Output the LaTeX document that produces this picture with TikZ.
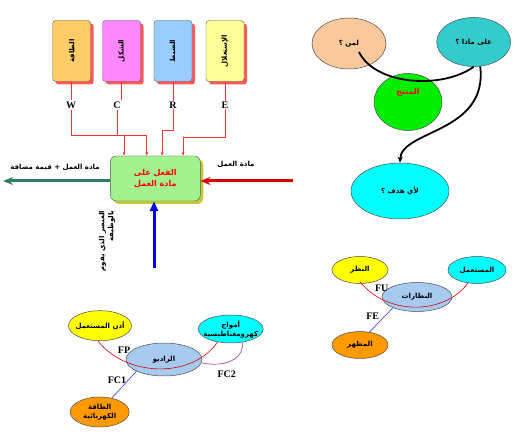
\documentclass[tikz,border=0pt]{standalone}
\usepackage{fontspec}
\setmainfont{Liberation Serif}
\newfontfamily\ar[Script=Arabic]{DejaVu Sans}
\TeXXeTstate=1
\usetikzlibrary{shapes.geometric,shadows,arrows.meta,calc}
\newcommand{\AR}[1]{{\ar\beginR #1\endR}}
\definecolor{cW}{HTML}{FFCC66}
\definecolor{cC}{HTML}{FF88FF}
\definecolor{cR}{HTML}{99CCFF}
\definecolor{cE}{HTML}{FFFF99}
\definecolor{cAct}{HTML}{A2F28E}
\definecolor{cActSh}{HTML}{C8C83C}
\definecolor{cPeach}{HTML}{F9C89B}
\definecolor{cTeal}{HTML}{33CCCC}
\definecolor{cGreen}{HTML}{00EE00}
\definecolor{cCyan}{HTML}{00FFFF}
\definecolor{cYel}{HTML}{FFFF00}
\definecolor{cLB}{HTML}{A6CAF0}
\definecolor{cOr}{HTML}{FF9900}
\definecolor{cLine}{HTML}{FF3333}
\definecolor{cOut}{HTML}{2E7D5E}
\tikzset{
  topbox/.style={draw=gray!70!black, rounded corners=3pt, minimum width=38pt, minimum height=61pt,
    drop shadow={shadow xshift=3pt,shadow yshift=-3pt,fill=red!65,opacity=1}},
  actbox/.style={draw=gray!70!black, fill=cAct, rounded corners=6pt, minimum width=90pt, minimum height=45pt,
    drop shadow={shadow xshift=3pt,shadow yshift=-3pt,fill=cActSh,opacity=1}},
  ell/.style={draw=black!70, ellipse, inner sep=0pt, line width=0.5pt},
  lat/.style={font=\bfseries\fontsize{10}{10}\selectfont, inner sep=1pt},
  atxt/.style={font=\bfseries\fontsize{7}{9}\selectfont, inner sep=1pt, align=center},
  rl/.style={draw=cLine, line width=0.7pt},
  rla/.style={rl, -{Stealth[length=4pt,width=3pt]}},
  heavy/.style={line width=3pt},
}
\begin{document}
\begin{tikzpicture}[x=1pt,y=-1pt]
\useasboundingbox (0,0) rectangle (515,446);
% top boxes
\node[topbox, fill=cW] (bW) at (71.7,51) {};
\node[topbox, fill=cC] (bC) at (121.7,51) {};
\node[topbox, fill=cR] (bR) at (173,51) {};
\node[topbox, fill=cE] (bE) at (225,51) {};
\node[atxt, rotate=90] (tW) at (bW.center) {\AR{الطاقة}};
\node[atxt, rotate=90] (tC) at (bC.center) {\AR{الشكل}};
\node[atxt, rotate=90] (tR) at (bR.center) {\AR{الضبط}};
\node[atxt, rotate=90] (tE) at (bE.center) {\AR{الإستغلال}};
\node[lat] (lW) at (71,105) {W};
\node[lat] (lC) at (117,105) {C};
\node[lat] (lR) at (173,105) {R};
\node[lat] (lE) at (225,105) {E};
\draw[rl] (bW.south) -- (bW.south |- lW.north);
\draw[rl] (bC.south) -- (bC.south |- lC.north);
\draw[rl] (bR.south) -- (bR.south |- lR.north);
\draw[rl] (bE.south) -- (bE.south |- lE.north);
% central box
\node[actbox] (act) at (155.3,178.5) {};
\node[font=\bfseries\fontsize{8}{11}\selectfont, text=red, align=center] (tact) at (act.center) {\AR{الفعل على}\\\AR{مادة العمل}};
\draw[rla] (lW.south) |- ([xshift=14pt,yshift=20pt]act.north west) -- ([xshift=14pt]act.north west);
\draw[rla] (lC.south) |- ([xshift=36.7pt,yshift=20pt]act.north west) -- ([xshift=36.7pt]act.north west);
\draw[rla] (lR.south) |- ([xshift=52pt,yshift=25pt]act.north west) -- ([xshift=52pt]act.north west);
\draw[rla] (lE.south) |- ([xshift=73pt,yshift=18pt]act.north west) -- ([xshift=73pt]act.north west);
% heavy arrows
\coordinate (outL) at (3,181);
\coordinate (inR) at (293,181);
\coordinate (inB) at (154,268);
\draw[heavy, draw=cOut, -{Stealth[length=10pt,width=8pt]}] ([yshift=-2.5pt]act.west) -- (outL);
\draw[heavy, draw=red!85!black, -{Stealth[length=10pt,width=8pt]}] (inR) -- ([yshift=-2.5pt]act.east);
\draw[heavy, draw=blue!90!black, -{Triangle[length=10pt,width=8pt]}] (inB) -- (act.south -| inB);
\node[atxt] (lOut) at (55,167) {\AR{مادة العمل + قيمة مضافة}};
\node[atxt] (lIn) at (236,164) {\AR{مادة العمل}};
\node[atxt, rotate=90, align=right] (lB) at (107,241) {\AR{العنصر الذي يقوم}\\\AR{بالوظيفة}};
% top right
\node[ell, fill=cPeach, minimum width=74pt, minimum height=51pt] (liman) at (349,43.5) {};
\node[atxt] (tliman) at (liman.center) {\AR{لمن ؟}};
\node[ell, fill=cTeal, minimum width=74pt, minimum height=49pt] (ala) at (473.7,42) {};
\node[atxt] (tala) at (ala.center) {\AR{على ماذا ؟}};
\node[ell, fill=cGreen, minimum width=68pt, minimum height=57pt] (mun) at (408,102) {};
\node[atxt, text=red, font=\bfseries\fontsize{8}{9}\selectfont] (tmun) at (408,92) {\AR{المنتج}};
\node[ell, fill=cCyan, minimum width=98pt, minimum height=56pt] (had) at (400,191) {};
\node[atxt] (thad) at (had.center) {\AR{لأي هدف ؟}};
\draw[line width=1.8pt] ($(liman.center)+(10,8.5)$) .. controls +(16,33) and +(-32,23) .. (ala.south);
\draw[line width=1.8pt, -{Stealth[length=6pt,width=5pt]}] (ala.-75) .. controls +(8,67) and +(1,-33) .. (had.north);
% bottom right
\node[ell, fill=cYel, minimum width=56pt, minimum height=27pt] (naz) at (360,270) {};
\node[atxt] (tnaz) at (naz.center) {\AR{النظر}};
\node[ell, fill=cCyan, minimum width=58pt, minimum height=27pt] (mus) at (477,270) {};
\node[atxt] (tmus) at (mus.center) {\AR{المستعمل}};
\node[ell, fill=cLB, minimum width=70pt, minimum height=29pt] (nzr) at (417,297) {};
\node[atxt] (tnzr) at (nzr.center) {\AR{النظارات}};
\node[ell, fill=cOr, minimum width=56pt, minimum height=27pt] (mzh) at (360,345) {};
\node[atxt] (tmzh) at (mzh.center) {\AR{المظهر}};
\draw[draw=red!85!black, line width=0.6pt] ([yshift=2pt]naz.south) .. controls +(27,34) and +(-23,32) .. (mus.235);
\draw[draw=blue!70!white, line width=0.7pt] (nzr.204) -- (mzh.54);
\node[lat] (FU) at (381.7,288) {FU};
\node[lat] (FE) at (372.7,316.7) {FE};
% bottom left
\node[ell, fill=cYel, minimum width=63pt, minimum height=30pt] (udh) at (100,325.7) {};
\node[atxt] (tudh) at (udh.center) {\AR{أذن المستعمل}};
\node[ell, fill=cCyan, minimum width=65pt, minimum height=28pt] (amw) at (230.7,329) {};
\node[atxt] (tamw) at (amw.center) {\AR{أمواج}\\\AR{كهرومغناطيسية}};
\node[ell, fill=cLB, minimum width=76pt, minimum height=33pt] (rad) at (164,359.5) {};
\node[atxt] (trad) at (rad.center) {\AR{الراديو}};
\node[ell, fill=cOr, minimum width=59pt, minimum height=30pt] (taq) at (99.7,412) {};
\node[atxt] (ttaq) at (taq.center) {\AR{الطاقة}\\\AR{الكهربائية}};
\draw[draw=red!85!black, line width=0.6pt] ([xshift=-2pt]udh.south) .. controls +(27,35) and +(-27,38) .. (amw.225);
\draw[draw=blue!70!white, line width=0.7pt] (rad.203) -- (taq.49);
\draw[draw=violet!70!white, line width=0.7pt] (rad.-5) .. controls +(23,5) and +(2,17) .. (amw.-49);
\node[lat] (FP) at (124,350) {FP};
\node[lat] (FC1) at (117,380) {FC1};
\node[lat] (FC2) at (226.7,374) {FC2};
\end{tikzpicture}
\end{document}
